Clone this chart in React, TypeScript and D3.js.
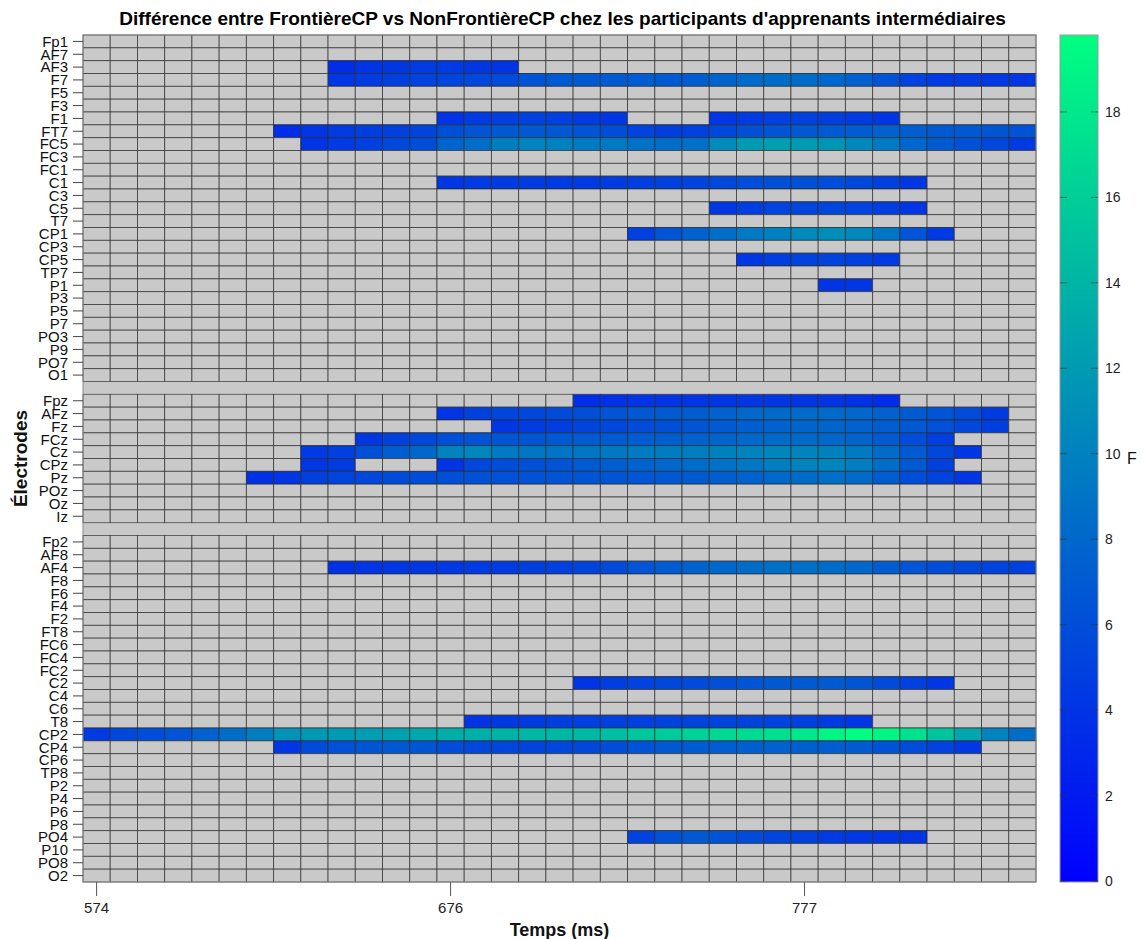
import React from "react";
import * as d3 from "d3";

// ---------------- DATA ----------------
const panel1 = ["Fp1","AF7","AF3","F7","F5","F3","F1","FT7","FC5","FC3","FC1","C1","C3","C5","T7","CP1","CP3","CP5","TP7","P1","P3","P5","P7","PO3","P9","PO7","O1"];
const panel2 = ["Fpz","AFz","Fz","FCz","Cz","CPz","Pz","POz","Oz","Iz"];
const panel3 = ["Fp2","AF8","AF4","F8","F6","F4","F2","FT8","FC6","FC4","FC2","C2","C4","C6","T8","CP2","CP4","CP6","TP8","P2","P4","P6","P8","PO4","P10","PO8","O2"];

const nTimeBins = 35;
const timeTickBins = [0, 13, 26];
const timeTickLabels = ["574", "676", "777"];
const colorTicks = [0, 2, 4, 6, 8, 10, 12, 14, 16, 18];
const fMax = 19.8;

// significant segments: [electrode, first time bin, F values]
const segments: [string, number, number[]][] = [
  ["AF3", 9, [3.6, 4.0, 4.3, 4.5, 4.5, 4.3, 4.0]],
  ["F7", 9, [4.2, 4.6, 5.0, 5.2, 5.4, 5.6, 5.8, 6.5, 6.8, 7.0, 7.0, 7.2, 7.0, 7.2, 7.8, 8.3, 8.5, 8.5, 8.0, 7.5, 6.5, 5.2, 4.6, 4.5, 4.4, 4.3]],
  ["F1", 13, [4.0, 4.5, 4.8, 5.0, 4.9, 4.6, 4.2]],
  ["F1", 23, [4.2, 4.6, 4.9, 5.0, 4.8, 4.5, 4.0]],
  ["FT7", 7, [3.5, 4.0, 4.5, 4.8, 5.0, 5.3, 6.2, 6.5, 6.8, 6.8, 6.8, 6.5, 6.0, 5.2, 4.8, 4.9, 5.5, 6.2, 6.5, 6.8, 7.0, 7.2, 7.5, 7.3, 7.0, 6.8, 6.6, 6.4]],
  ["FC5", 8, [4.0, 4.5, 5.0, 5.5, 6.0, 7.8, 8.5, 9.8, 10.2, 10.0, 9.5, 9.3, 8.8, 8.5, 8.8, 10.8, 12.0, 12.3, 12.0, 11.5, 10.5, 9.5, 8.0, 7.0, 6.3, 5.5, 4.6]],
  ["C1", 13, [4.2, 4.5, 4.6, 4.6, 4.5, 4.5, 4.6, 4.8, 5.0, 5.2, 5.6, 6.0, 6.2, 6.2, 6.0, 5.6, 5.0, 4.3]],
  ["C5", 23, [4.3, 4.8, 5.2, 5.4, 5.4, 5.2, 4.8, 4.2]],
  ["CP1", 20, [5.0, 6.5, 7.5, 8.5, 9.5, 10.0, 10.6, 11.0, 10.5, 9.0, 6.5, 4.5]],
  ["CP5", 24, [4.2, 4.8, 5.2, 5.3, 5.0, 4.5]],
  ["P1", 27, [4.0, 4.2]],
  ["Fpz", 18, [3.5, 3.8, 4.0, 4.0, 4.0, 4.1, 4.2, 4.2, 4.1, 4.0, 3.8, 3.5]],
  ["AFz", 13, [4.0, 5.0, 5.4, 5.6, 5.8, 6.2, 6.5, 6.8, 7.0, 7.2, 7.6, 8.0, 8.2, 8.3, 8.2, 8.0, 7.5, 7.0, 6.5, 5.8, 4.6]],
  ["Fz", 15, [4.3, 4.6, 4.8, 5.3, 5.6, 5.9, 6.2, 6.6, 7.0, 7.4, 7.6, 7.8, 7.8, 7.5, 7.2, 6.8, 6.3, 5.6, 4.8]],
  ["FCz", 10, [4.3, 5.0, 5.5, 6.2, 6.5, 6.6, 6.6, 6.8, 7.0, 7.0, 7.2, 7.3, 7.5, 7.8, 8.0, 8.2, 8.2, 8.0, 7.8, 7.0, 6.0, 4.8]],
  ["Cz", 8, [4.5, 5.0, 6.2, 7.3, 8.0, 10.2, 10.5, 9.5, 9.2, 9.0, 9.2, 9.4, 9.5, 9.6, 9.8, 10.0, 10.2, 10.3, 10.2, 10.0, 9.5, 8.3, 7.0, 5.5, 4.2]],
  ["CPz", 8, [4.2, 4.5]],
  ["CPz", 13, [4.0, 5.5, 6.0, 6.2, 6.5, 7.0, 7.3, 7.6, 8.0, 8.4, 8.8, 9.3, 9.8, 10.2, 10.3, 9.8, 8.5, 6.8, 5.0]],
  ["Pz", 6, [3.8, 4.2, 5.0, 5.4, 5.6, 5.8, 6.0, 6.2, 6.3, 6.3, 6.4, 6.5, 6.6, 6.6, 6.7, 6.8, 7.0, 7.3, 7.6, 8.0, 8.4, 8.6, 8.3, 7.2, 6.0, 5.2, 4.2]],
  ["AF4", 9, [3.8, 4.0, 4.2, 4.3, 4.4, 4.5, 4.6, 4.8, 5.0, 5.3, 5.8, 6.5, 7.0, 7.6, 8.0, 8.4, 8.6, 8.6, 8.4, 8.0, 7.2, 6.5, 6.0, 5.6, 5.2, 5.0]],
  ["C2", 18, [4.0, 4.8, 5.2, 5.5, 5.8, 6.2, 6.6, 6.8, 7.0, 7.0, 6.6, 5.8, 5.0, 4.2]],
  ["T8", 14, [4.0, 4.4, 4.6, 4.8, 4.9, 5.0, 5.0, 5.1, 5.2, 5.3, 5.3, 5.2, 5.0, 4.6, 4.2]],
  ["CP2", 0, [4.5, 5.5, 6.0, 6.6, 7.5, 8.5, 9.6, 11.3, 11.8, 12.0, 12.3, 12.5, 13.0, 13.4, 13.6, 14.0, 14.2, 14.2, 14.4, 14.8, 15.4, 15.8, 16.2, 16.8, 17.0, 17.4, 18.0, 19.0, 19.8, 19.0, 17.5, 15.2, 13.0, 10.2, 8.5]],
  ["CP4", 7, [4.2, 5.8, 6.3, 6.6, 6.8, 6.6, 6.0, 5.6, 5.4, 5.3, 5.4, 5.6, 6.0, 6.4, 6.8, 7.0, 7.2, 7.4, 7.5, 7.4, 7.2, 7.0, 6.4, 5.8, 5.2, 4.4]],
  ["PO4", 20, [5.2, 6.4, 6.8, 6.4, 5.8, 5.4, 5.0, 4.6, 4.4, 4.3, 4.0]],
];

// ---------------- LAYOUT ----------------
const W = 1146;
const H = 939;
const GRID_L = 83;
const GRID_R = 1036;
const GRID_T = 35;
const GRID_B = 882;
const CB_L = 1060;
const CB_W = 38;
const FONT = "'Liberation Sans', Arial, Helvetica, sans-serif";
const GREY = "#c9c9c9";

const GAP1 = "__gap1";
const GAP2 = "__gap2";
const rows = [...panel1, GAP1, ...panel2, GAP2, ...panel3];

export default function App() {
  const x = d3.scaleBand<number>().domain(d3.range(nTimeBins)).range([GRID_L, GRID_R]);
  const y = d3.scaleBand<string>().domain(rows).range([GRID_T, GRID_B]);
  const color = d3
    .scaleLinear<string>()
    .domain([0, fMax])
    .range(["#0000ff", "#00ff80"])
    .interpolate(d3.interpolateRgb);
  const cbY = d3.scaleLinear().domain([0, fMax]).range([GRID_B - 1, GRID_T]);

  const values = new Map<string, number>();
  segments.forEach(([el, start, vals]) => {
    vals.forEach((v, i) => values.set(el + "|" + (start + i), v));
  });

  const electrodes = rows.filter((r) => r !== GAP1 && r !== GAP2);
  const bw = x.bandwidth();
  const bh = y.bandwidth();

  const gradStops = d3.range(0, 1.0001, 0.1);

  return (
    <svg
      width={W}
      height={H}
      style={{ position: "absolute", left: 0, top: 0, background: "#fff" }}
      fontFamily={FONT}
    >
      <defs>
        <linearGradient id="cbgrad" x1="0" y1="1" x2="0" y2="0">
          {gradStops.map((t) => (
            <stop key={t} offset={t} stopColor={color(t * fMax)} />
          ))}
        </linearGradient>
      </defs>

      {/* title */}
      <text
        x={(GRID_L + GRID_R) / 2 + 3}
        y={25}
        textAnchor="middle"
        fontWeight="bold"
        fontSize={19}
        fill="#000"
      >
        Différence entre FrontièreCP vs NonFrontièreCP chez les participants d'apprenants intermédiaires
      </text>

      {/* gap rows */}
      {[GAP1, GAP2].map((g) => (
        <rect key={g} x={GRID_L} y={y(g)} width={GRID_R - GRID_L} height={bh} fill={GREY} />
      ))}

      {/* cells */}
      {electrodes.map((el) =>
        d3.range(nTimeBins).map((b) => {
          const v = values.get(el + "|" + b);
          return (
            <rect
              key={el + b}
              x={x(b)}
              y={y(el)}
              width={bw}
              height={bh}
              fill={v === undefined ? GREY : color(v)}
              stroke="#2a2a2a"
              strokeOpacity={0.75}
              strokeWidth={0.9}
            />
          );
        })
      )}

      {/* outer frame */}
      <rect
        x={GRID_L}
        y={GRID_T}
        width={GRID_R - GRID_L}
        height={GRID_B - GRID_T}
        fill="none"
        stroke="#8a8a8a"
        strokeWidth={1}
      />

      {/* y ticks + labels */}
      {electrodes.map((el) => {
        const cy = (y(el) as number) + bh / 2;
        return (
          <g key={"yl" + el}>
            <line x1={GRID_L - 10} x2={GRID_L} y1={cy} y2={cy} stroke="#444" strokeWidth={1} />
            <text x={GRID_L - 15} y={cy} dy="0.36em" textAnchor="end" fontSize={15} fill="#111">
              {el}
            </text>
          </g>
        );
      })}

      {/* x ticks + labels */}
      {timeTickBins.map((b, i) => {
        const cx = (x(b) as number) + bw / 2;
        return (
          <g key={"xt" + b}>
            <line x1={cx} x2={cx} y1={GRID_B} y2={GRID_B + 14} stroke="#555" strokeWidth={1} />
            <text x={cx} y={913} textAnchor="middle" fontSize={15} fill="#222">
              {timeTickLabels[i]}
            </text>
          </g>
        );
      })}

      {/* axis titles */}
      <text
        x={(GRID_L + GRID_R) / 2}
        y={936}
        textAnchor="middle"
        fontWeight="bold"
        fontSize={18}
        fill="#111"
      >
        Temps (ms)
      </text>
      <text
        transform={`translate(27, ${(GRID_T + GRID_B) / 2}) rotate(-90)`}
        textAnchor="middle"
        fontWeight="bold"
        fontSize={19}
        fill="#111"
      >
        Électrodes
      </text>

      {/* colorbar */}
      <rect
        x={CB_L}
        y={GRID_T}
        width={CB_W}
        height={GRID_B - GRID_T}
        fill="url(#cbgrad)"
        stroke="#9a9a9a"
        strokeWidth={1}
      />
      {colorTicks.map((t) => {
        const ty = cbY(t);
        return (
          <g key={"ct" + t}>
            <line x1={CB_L} x2={CB_L + 7} y1={ty} y2={ty} stroke="#333" strokeOpacity={0.6} />
            <line x1={CB_L + CB_W - 7} x2={CB_L + CB_W} y1={ty} y2={ty} stroke="#333" strokeOpacity={0.6} />
            <text x={CB_L + CB_W + 7} y={ty} dy="0.36em" fontSize={14} fill="#222">
              {t}
            </text>
          </g>
        );
      })}
      <text x={1127} y={(GRID_T + GRID_B) / 2} dy="0.36em" fontSize={16} fill="#111">
        F
      </text>
    </svg>
  );
}
